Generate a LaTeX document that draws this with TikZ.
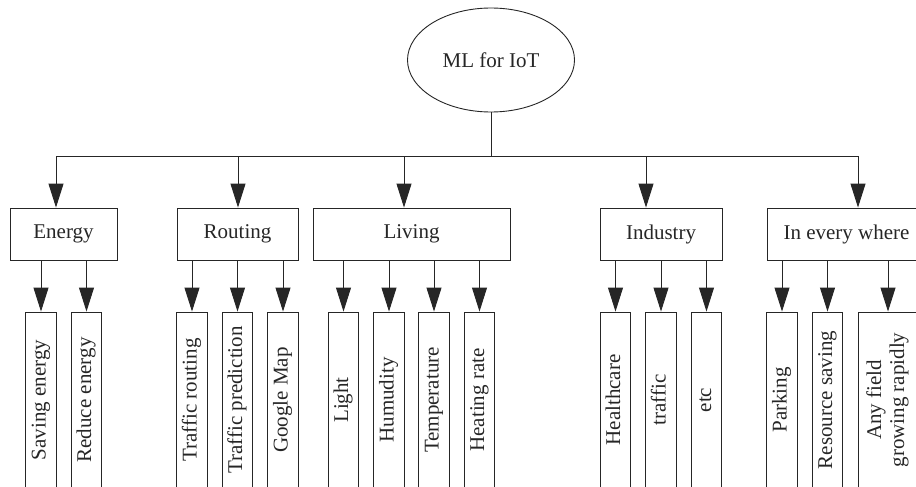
\documentclass[tikz,border=0pt]{standalone}
\usepackage{fontspec}
\setmainfont{Liberation Serif}
\usetikzlibrary{arrows.meta,shapes.geometric}
\newcommand{\vtext}[1]{\rotatebox{90}{\begin{tabular}{@{}c@{}}#1\end{tabular}}}
\begin{document}
\begin{tikzpicture}[x=1pt,y=-1pt,color=black!85,line width=0.9pt,
    every node/.style={font=\fontsize{21}{23}\selectfont},
    cat/.style={draw,minimum height=52pt,inner sep=0pt},
    leaf/.style={draw,minimum width=30.5pt,minimum height=176pt,inner sep=0pt},
    arr/.style={-{Triangle[length=24pt,width=15pt]}}]
  \path[use as bounding box,clip] (0,0) rectangle (916,487);
  \node[draw,ellipse,minimum width=167pt,minimum height=104pt,inner sep=0pt] (root) at (491,60) {ML for IoT};

  \node[cat,minimum width=107pt] (energy) at (63.5,234) {Energy};
  \node[cat,minimum width=121pt] (routing) at (237.5,234) {Routing};
  \node[cat,minimum width=197pt] (living) at (411.5,234) {Living};
  \node[cat,minimum width=122pt] (industry) at (661,234) {Industry};
  \node[cat,minimum width=159pt] (where) at (846.5,234) {In every where};

  \coordinate (a1) at (56,156);
  \coordinate (a2) at (238,156);
  \coordinate (a3) at (404,156);
  \coordinate (a4) at (646,156);
  \coordinate (a5) at (858,156);
  \draw (root) -- (root |- a1);
  \draw (a1) -- (a5);
  \draw[arr] (a1) -- (a1 |- energy.north);
  \draw[arr] (a2) -- (a2 |- routing.north);
  \draw[arr] (a3) -- (a3 |- living.north);
  \draw[arr] (a4) -- (a4 |- industry.north);
  \draw[arr] (a5) -- (a5 |- where.north);

  \node[leaf] (saving) at (41,400) {\vtext{Saving energy}};
  \node[leaf] (reduce) at (86.5,400) {\vtext{Reduce energy}};
  \node[leaf] (troute) at (192,400) {\vtext{Traffic routing}};
  \node[leaf] (tpred) at (237.5,400) {\vtext{Traffic prediction}};
  \node[leaf] (gmap) at (283,400) {\vtext{Google Map}};
  \node[leaf] (light) at (343.5,400) {\vtext{Light}};
  \node[leaf] (humid) at (389,400) {\vtext{Humudity}};
  \node[leaf] (temp) at (434,400) {\vtext{Temperature}};
  \node[leaf] (heat) at (479.5,400) {\vtext{Heating rate}};
  \node[leaf] (health) at (615.5,400) {\vtext{Healthcare}};
  \node[leaf] (traffic) at (661,400) {\vtext{traffic}};
  \node[leaf] (etc) at (706.5,400) {\vtext{etc}};
  \node[leaf] (parking) at (782,400) {\vtext{Parking}};
  \node[leaf] (resource) at (827.5,400) {\vtext{Resource saving}};
  \node[leaf,minimum width=60pt] (anyfield) at (888,400) {\vtext{Any field\\growing rapidly}};

  \draw[arr] (saving |- energy.south) -- (saving.north);
  \draw[arr] (reduce |- energy.south) -- (reduce.north);
  \draw[arr] (troute |- routing.south) -- (troute.north);
  \draw[arr] (tpred |- routing.south) -- (tpred.north);
  \draw[arr] (gmap |- routing.south) -- (gmap.north);
  \draw[arr] (light |- living.south) -- (light.north);
  \draw[arr] (humid |- living.south) -- (humid.north);
  \draw[arr] (temp |- living.south) -- (temp.north);
  \draw[arr] (heat |- living.south) -- (heat.north);
  \draw[arr] (health |- industry.south) -- (health.north);
  \draw[arr] (traffic |- industry.south) -- (traffic.north);
  \draw[arr] (etc |- industry.south) -- (etc.north);
  \draw[arr] (parking |- where.south) -- (parking.north);
  \draw[arr] (resource |- where.south) -- (resource.north);
  \draw[arr] (anyfield |- where.south) -- (anyfield.north);
\end{tikzpicture}
\end{document}
